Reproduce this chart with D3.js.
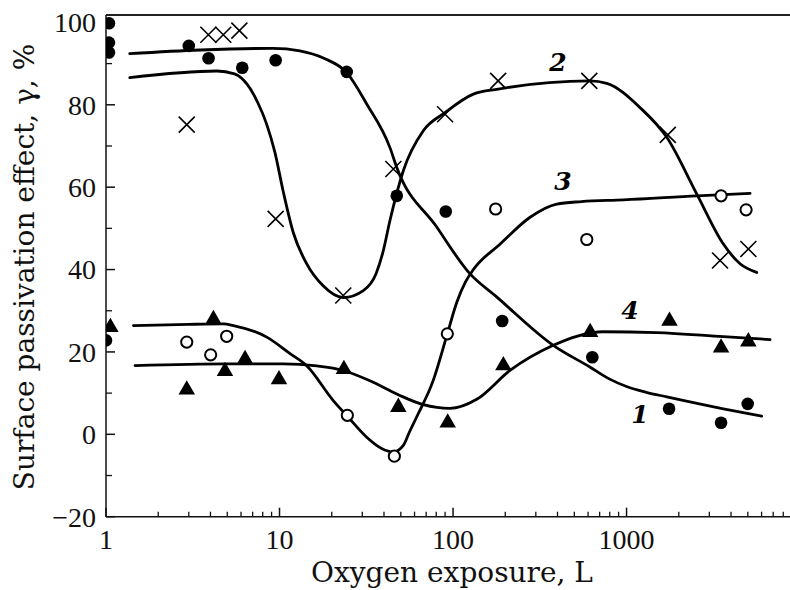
<!DOCTYPE html>
<html><head><meta charset="utf-8">
<script src="https://cdn.jsdelivr.net/npm/d3@7"></script>
<style>body{margin:0;background:#fff}svg{display:block}</style>
</head><body>
<svg id="chart" width="790" height="590"></svg>
<script>
// ---------- data ----------
const xTicksMajor = [1, 10, 100, 1000];
const xTickLabels = ["1", "10", "100", "1000"];
const yTicksMajor = [-20, 0, 20, 40, 60, 80, 100];
const yTickLabels = ["\u221220", "0", "20", "40", "60", "80", "100"];

// series 1: filled circles
const s1x = [1.04, 1.04, 1.04, 1.0, 3.0, 3.9, 6.1, 9.5, 24.4, 47.4, 90.8, 192, 635, 1758, 3506, 4992];
const s1y = [99.8, 95.1, 92.7, 22.8, 94.3, 91.3, 89.0, 90.8, 88.0, 57.9, 54.1, 27.5, 18.7, 6.2, 2.8, 7.4];
// series 2: crosses
const s2x = [2.92, 3.89, 4.74, 5.87, 9.5, 23.3, 45.3, 90, 182, 610, 1728, 3458, 5036];
const s2y = [75.2, 97.0, 97.0, 98.0, 52.3, 33.7, 64.4, 77.7, 85.8, 85.8, 72.7, 42.2, 45.0];
// series 3: open circles
const s3x = [2.92, 4.01, 4.96, 24.6, 45.9, 92.7, 176, 590, 3506, 4886];
const s3y = [22.4, 19.3, 23.8, 4.6, -5.3, 24.4, 54.7, 47.3, 57.9, 54.5];
// series 4: filled triangles
const s4x = [1.06, 2.92, 4.16, 4.85, 6.33, 9.93, 23.5, 48.4, 93.2, 195, 617, 1768, 3506, 5036];
const s4y = [26.0, 10.8, 27.9, 15.3, 18.2, 13.3, 15.8, 6.6, 2.8, 16.7, 24.8, 27.5, 21.0, 22.5];

// fitted curves
const c1x = [1.37, 3.48, 9.18, 13.1, 18, 24.4, 31.8, 43.3, 47.4, 80, 125, 179, 378, 617, 800, 1000, 1300, 1706, 3614, 6010];
const c1y = [92.4, 93.3, 93.7, 93.1, 91.3, 87.8, 80.2, 69.6, 64.8, 50.5, 39.0, 33.3, 21.6, 16.3, 13.4, 11.6, 10.2, 9.1, 6.2, 4.4];
const c2x = [1.37, 4.35, 5.5, 6.5, 7.5, 8.4, 9.4, 10.5, 12.0, 14.3, 17.9, 23.3, 30.4, 36, 39.6, 43.3, 51.7, 67.4, 89.9, 131, 182, 617, 769, 1197, 1706, 2541, 3614, 4510, 5625];
const c2y = [86.6, 88.2, 87.5, 85.0, 80.5, 75.5, 68.5, 59.0, 49.0, 41.5, 36.0, 33.2, 34.9, 39.0, 44.5, 51.9, 64.0, 73.7, 78.1, 82.6, 83.8, 85.8, 85.2, 79.3, 72.1, 58.3, 46.2, 41.4, 39.3];
const c3x = [1.44, 3.0, 4.75, 5.42, 8.44, 11.5, 14.3, 20.4, 24.6, 31.8, 39, 45.3, 51.7, 56, 61.7, 76.9, 92.7, 105, 118, 131, 187, 278, 396, 550, 960, 2541, 5150];
const c3y = [26.4, 26.7, 26.8, 26.4, 23.6, 19.6, 16.7, 8.2, 4.4, -0.7, -3.5, -4.3, -2.7, 0.5, 4.2, 13.1, 24.4, 32.0, 37.0, 40.0, 46.2, 52.7, 55.9, 56.5, 56.9, 57.9, 58.5];
const c4x = [1.47, 5, 10.5, 16.4, 23.3, 33.2, 48.4, 67.4, 96.1, 137, 213, 378, 516, 735, 1493, 3614, 6714];
const c4y = [16.7, 17.1, 17.1, 16.6, 15.5, 13.0, 9.6, 7.2, 6.3, 8.5, 15.5, 21.6, 23.8, 24.9, 24.7, 23.7, 23.0];

const curveLabels = ["1", "2", "3", "4"];
const labelX = [1196, 403, 430, 1047];
const labelY = [2.7, 88.2, 59.2, 28.1];

const xTitle = "Oxygen exposure, L";
const yTitle = "Surface passivation effect, \u03b3, %";

// ---------- layout ----------
const svg = d3.select("#chart");
const x = d3.scaleLog().domain([1, 8750]).range([106, 790]);
const y = d3.scaleLinear().domain([-20, 101.8]).range([516.7, 15]);
const zip = (a, b) => a.map((v, i) => ({x: v, y: b[i]}));

svg.append("defs").append("clipPath").attr("id", "plotclip")
  .append("rect").attr("x", x(1)).attr("y", y(101.8))
  .attr("width", x(8750) - x(1)).attr("height", y(-20) - y(101.8));

// top frame line
svg.append("line").attr("x1", x(1)).attr("x2", x(8750)).attr("y1", y(101.8)).attr("y2", y(101.8))
  .attr("stroke", "#222").attr("stroke-width", 2);

// x axis
const xMinor = [];
for (let d = 1; d <= 1000; d *= 10) for (let k = 2; k <= 9; k++) if (d * k <= 8750) xMinor.push(d * k);
const gx = svg.append("g").attr("transform", `translate(0,${y(-20)})`);
gx.append("line").attr("x1", x(1)).attr("x2", x(8750)).attr("stroke", "#111").attr("stroke-width", 1.5);
gx.selectAll(".xmaj").data(xTicksMajor).join("line")
  .attr("x1", d => x(d)).attr("x2", d => x(d)).attr("y1", 0).attr("y2", -9)
  .attr("stroke", "#111").attr("stroke-width", 1.5);
gx.selectAll(".xmin").data(xMinor).join("line")
  .attr("x1", d => x(d)).attr("x2", d => x(d)).attr("y1", 0).attr("y2", -5)
  .attr("stroke", "#111").attr("stroke-width", 1.3);
gx.selectAll("text").data(xTicksMajor).join("text")
  .attr("x", d => x(d)).attr("y", 32).attr("text-anchor", "middle")
  .attr("font-family", "Liberation Serif").attr("font-size", 28).attr("fill", "#111")
  .text((d, i) => xTickLabels[i]);

// y axis
const yMinor = d3.range(-10, 101, 20);
const gy = svg.append("g").attr("transform", `translate(${x(1)},0)`);
gy.append("line").attr("y1", y(-20)).attr("y2", y(101.8)).attr("stroke", "#111").attr("stroke-width", 1.5);
gy.selectAll(".ymaj").data(yTicksMajor).join("line")
  .attr("y1", d => y(d)).attr("y2", d => y(d)).attr("x1", 0).attr("x2", 9)
  .attr("stroke", "#111").attr("stroke-width", 1.5);
gy.selectAll(".ymin").data(yMinor).join("line")
  .attr("y1", d => y(d)).attr("y2", d => y(d)).attr("x1", 0).attr("x2", 6)
  .attr("stroke", "#111").attr("stroke-width", 1.3);
gy.selectAll("text").data(yTicksMajor).join("text")
  .attr("x", -10).attr("y", d => y(d)).attr("dy", "0.35em").attr("text-anchor", "end")
  .attr("font-family", "Liberation Serif").attr("font-size", 28).attr("fill", "#111")
  .text((d, i) => yTickLabels[i]);

// titles
svg.append("text").attr("x", 452).attr("y", 582).attr("text-anchor", "middle")
  .attr("font-family", "DejaVu Serif").attr("font-size", 28).attr("fill", "#111").text(xTitle);
svg.append("text").attr("transform", "translate(34,267) rotate(-90)").attr("text-anchor", "middle")
  .attr("font-family", "DejaVu Serif").attr("font-size", 28).attr("fill", "#111").text(yTitle);

// curves
const plot = svg.append("g").attr("clip-path", "url(#plotclip)");
const line = d3.line().x(d => x(d.x)).y(d => y(d.y)).curve(d3.curveMonotoneX);
[[c1x, c1y], [c2x, c2y], [c3x, c3y], [c4x, c4y]].forEach(([cx, cy]) => {
  plot.append("path").datum(zip(cx, cy)).attr("d", line)
    .attr("fill", "none").attr("stroke", "#000").attr("stroke-width", 2.8)
    .attr("stroke-linecap", "round");
});

// markers
plot.selectAll(".s1").data(zip(s1x, s1y)).join("circle")
  .attr("cx", d => x(d.x)).attr("cy", d => y(d.y)).attr("r", 6.3).attr("fill", "#000");
plot.selectAll(".s2").data(zip(s2x, s2y)).join("path")
  .attr("transform", d => `translate(${x(d.x)},${y(d.y)})`)
  .attr("d", "M-8,-8L8,8M-8,8L8,-8")
  .attr("stroke", "#000").attr("stroke-width", 1.6).attr("fill", "none");
plot.selectAll(".s3").data(zip(s3x, s3y)).join("circle")
  .attr("cx", d => x(d.x)).attr("cy", d => y(d.y)).attr("r", 5.6)
  .attr("fill", "#fff").attr("stroke", "#000").attr("stroke-width", 2);
const tri = d3.symbol().type(d3.symbolTriangle).size(118);
plot.selectAll(".s4").data(zip(s4x, s4y)).join("path")
  .attr("transform", d => `translate(${x(d.x)},${y(d.y)})`)
  .attr("d", tri).attr("fill", "#000");

// curve labels
svg.selectAll(".clab").data(curveLabels).join("text")
  .attr("x", (d, i) => x(labelX[i])).attr("y", (d, i) => y(labelY[i]))
  .attr("text-anchor", "middle")
  .attr("font-family", "DejaVu Serif").attr("font-style", "italic").attr("font-weight", "bold")
  .attr("font-size", 25).attr("fill", "#000").text(d => d);
</script>
</body></html>
